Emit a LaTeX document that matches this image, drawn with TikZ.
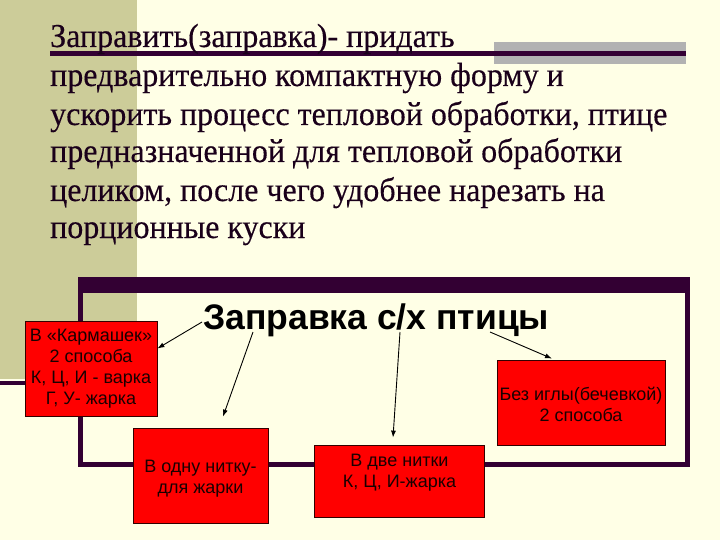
\documentclass[tikz,border=0pt]{standalone}
\usepackage{fontspec}
\setmainfont{Liberation Serif}
\newfontfamily\parafont[FakeStretch=0.955,FakeBold=0.3]{Liberation Serif}
\newfontfamily\arialf{Liberation Sans}
\usetikzlibrary{arrows.meta,calc}
\definecolor{bg}{HTML}{FFFFE6}
\definecolor{band}{HTML}{CCCC99}
\definecolor{dk}{HTML}{330033}
\definecolor{grayb}{HTML}{B2B2B2}
\definecolor{txt}{HTML}{1A001A}
\definecolor{bord}{HTML}{330000}
\begin{document}
\begin{tikzpicture}[x=1pt,y=-1pt,
  para/.style={anchor=base west, inner sep=0pt, font=\parafont\fontsize{33.5}{38}\selectfont, text=txt},
  rbox/.style={draw=bord, line width=0.8pt, fill=red, inner sep=0pt},
  btext/.style={align=center, inner sep=0pt, font=\arialf\fontsize{18}{21}\selectfont, text=black!90!red},
  arr/.style={-{Latex[length=7pt,width=5pt]}, line width=0.9pt, black}]
\useasboundingbox (0,0) rectangle (720,540);
\fill[bg] (0,0) rectangle (720,540);
\fill[band] (0,0) rectangle (137,379);
\fill[grayb] (494,42) rectangle (686,64);
\draw[dk, line width=5pt] (50,54) -- (686,54);
% paragraph
\node[para] (l1) at (50,47) {Заправить(заправка)- придать};
\node[para] (l2) at (50,86) {предварительно компактную форму  и};
\node[para] (l3) at (50,125) {ускорить процесс тепловой обработки, птице};
\node[para] (l4) at (50,162) {предназначенной  для тепловой обработки};
\node[para] (l5) at (50,201) {целиком, после чего удобнее нарезать на};
\node[para] (l6) at (50,238) {порционные куски};
% frame
\draw[dk, line width=4pt] (0,383) -- (80,383);
\fill[dk] (78,277) rectangle (690,293);
\draw[dk, line width=5pt] (80,285) -- (80,464.5) -- (687,464.5) -- (687,285);
% title
\node[anchor=base west, inner sep=0pt, font=\arialf\bfseries\fontsize{35.5}{38}\selectfont, text=black] (title) at (203,329) {Заправка с/х птицы};
% boxes
\node[rbox, minimum width=132pt, minimum height=95pt] (b1) at (91,368.5) {};
\node[btext] (t1) at (b1.center) {В «Кармашек»\\2 способа\\К, Ц, И - варка\\Г, У- жарка};
\node[rbox, minimum width=135pt, minimum height=95pt] (b2) at (200.5,475.5) {};
\node[btext] (t2) at ($(b2.center)+(0,3)$) {В одну нитку-\\для жарки};
\node[rbox, minimum width=170pt, minimum height=72pt] (b3) at (399.5,481) {};
\node[btext] (t3) at ($(b3.center)+(0,-8.5)$) {В две нитки\\К, Ц, И-жарка};
\node[rbox, minimum width=168pt, minimum height=85pt] (b4) at (581,402.5) {};
\node[btext] (t4) at ($(b4.center)+(0,1.5)$) {Без иглы(бечевкой)\\2 способа};
% arrows
\coordinate (s1) at ($(title.base west)+(-1,-7)$);
\coordinate (s2) at ($(title.base west)+(50,3)$);
\coordinate (s3) at ($(title.base west)+(197,3)$);
\coordinate (s4) at ($(title.base west)+(287,3)$);
\draw[arr] (s1) -- ($(b1.east)+(0,-20)$);
\draw[arr] (s2) -- ($(b2.north)+(22.5,-11)$);
\draw[arr] (s3) -- ($(b3.north)+(-6.5,-7)$);
\draw[arr] (s4) -- ($(b4.north)+(-29,-1)$);
\end{tikzpicture}
\end{document}
